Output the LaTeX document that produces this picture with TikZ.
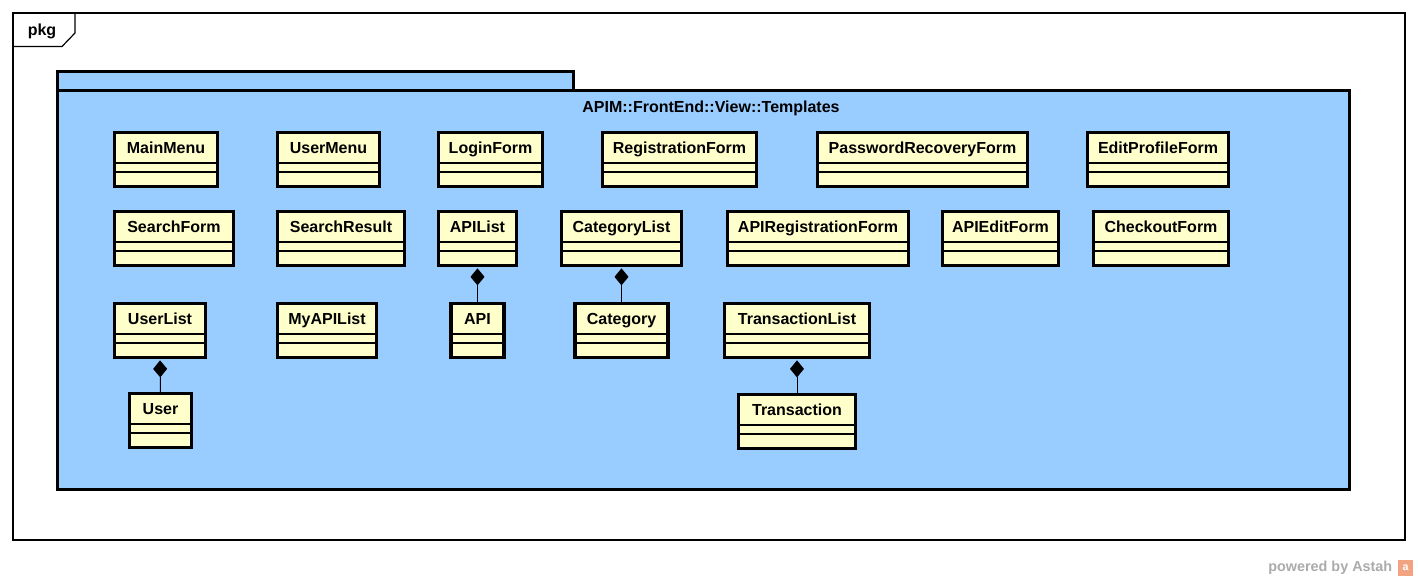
\documentclass[tikz,border=0pt]{standalone}
\usepackage{fontspec}
\setmainfont{Liberation Sans}
\usetikzlibrary{arrows.meta, calc}
\definecolor{Canvas}{HTML}{FFFFFF}
\definecolor{Package}{HTML}{99CCFF}
\definecolor{Class}{HTML}{FFFFCC}
\definecolor{Ink}{HTML}{000000}
\definecolor{Mark}{HTML}{ABABAB}
\definecolor{MarkIcon}{HTML}{F2A482}

\begin{document}
\begin{tikzpicture}[
  x=0.75pt, y=-0.75pt,
  font=\fontsize{12}{14}\selectfont\bfseries,
  frame/.style={
    draw=Ink,
    line width=0.9pt
  },
  package/.style={
    draw=Ink,
    fill=Package,
    line width=2.3pt
  },
  cls/.style={
    rectangle,
    draw=Ink,
    fill=Class,
    line width=2.3pt,
    inner sep=0pt,
    minimum height=40.5pt,
    text height=9pt,
    text depth=17.6pt,
    text=Ink,
    path picture={
      \draw[Ink, line width=0.8pt]
        ($(path picture bounding box.north west)+(0,30.5)$) --
        ($(path picture bounding box.north east)+(0,30.5)$);
      \draw[Ink, line width=0.8pt]
        ($(path picture bounding box.north west)+(0,39.5)$) --
        ($(path picture bounding box.north east)+(0,39.5)$);
    }
  },
  compose/.style={
    {Diamond[length=12.75pt,width=10.5pt]}-,
    draw=Ink,
    line width=0.75pt,
    shorten <=1pt
  }
]

\useasboundingbox (0,0) rectangle (1418,581);
\fill[Canvas] (0,0) rectangle (1418,581);

% diagram frame
\draw[frame] (13,13) rectangle (1405,540);
\draw[frame] (13,46.5) -- (62,46.5) -- (75,33) -- (75,13);
\node (pkgname) at (42,31) {pkg};

% package
\draw[package] (57.5,71.5) rectangle (573.5,90.5);
\draw[package] (57.5,90.5) rectangle (1349.5,489.5);
\node (title) at (711,108) {APIM::FrontEnd::View::Templates};

% classes
\node[cls, minimum width=77.25pt] (MainMenu) at (166,159.5) {MainMenu};
\node[cls, minimum width=76.5pt] (UserMenu) at (328.5,159.5) {UserMenu};
\node[cls, minimum width=78pt] (LoginForm) at (490.5,159.5) {LoginForm};
\node[cls, minimum width=115.5pt] (RegistrationForm) at (679.5,159.5) {RegistrationForm};
\node[cls, minimum width=157.5pt] (PasswordRecoveryForm) at (922.5,159.5) {PasswordRecoveryForm};
\node[cls, minimum width=105.75pt] (EditProfileForm) at (1158,159.5) {EditProfileForm};

\node[cls, minimum width=89.25pt] (SearchForm) at (174,238.5) {SearchForm};
\node[cls, minimum width=95.25pt] (SearchResult) at (341,238.5) {SearchResult};
\node[cls, minimum width=58.5pt] (APIList) at (477.5,238.5) {APIList};
\node[cls, minimum width=90pt] (CategoryList) at (621.5,238.5) {CategoryList};
\node[cls, minimum width=135.75pt] (APIRegistrationForm) at (818,238.5) {APIRegistrationForm};
\node[cls, minimum width=87pt] (APIEditForm) at (1000.5,238.5) {APIEditForm};
\node[cls, minimum width=101.25pt] (CheckoutForm) at (1161,238.5) {CheckoutForm};

\node[cls, minimum width=68.25pt] (UserList) at (160,330.5) {UserList};
\node[cls, minimum width=74.25pt] (MyAPIList) at (327,330.5) {MyAPIList};
\node[cls, minimum width=39.75pt] (API) at (477.5,330.5) {API};
\node[cls, minimum width=69.75pt] (Category) at (621.5,330.5) {Category};
\node[cls, minimum width=108.75pt] (TransactionList) at (797,330.5) {TransactionList};

\node[cls, minimum width=46.5pt] (User) at (160.5,420.5) {User};
\node[cls, minimum width=87.75pt] (Transaction) at (797,421.5) {Transaction};

% compositions
\draw[compose] (APIList.south) -- (API.north);
\draw[compose] (CategoryList.south) -- (Category.north);
\draw[compose] (UserList.south) -- (User.north);
\draw[compose] (TransactionList.south) -- (Transaction.north);

% watermark
\node[text=Mark, font=\fontsize{10.8}{12}\selectfont\bfseries, anchor=east] (powered) at (1397,568) {powered by Astah};
\fill[MarkIcon] (1398,560) rectangle (1413,576);
\node[text=Canvas, font=\fontsize{8}{9}\selectfont\bfseries] (icon) at (1405.5,568) {a};

\end{tikzpicture}
\end{document}
